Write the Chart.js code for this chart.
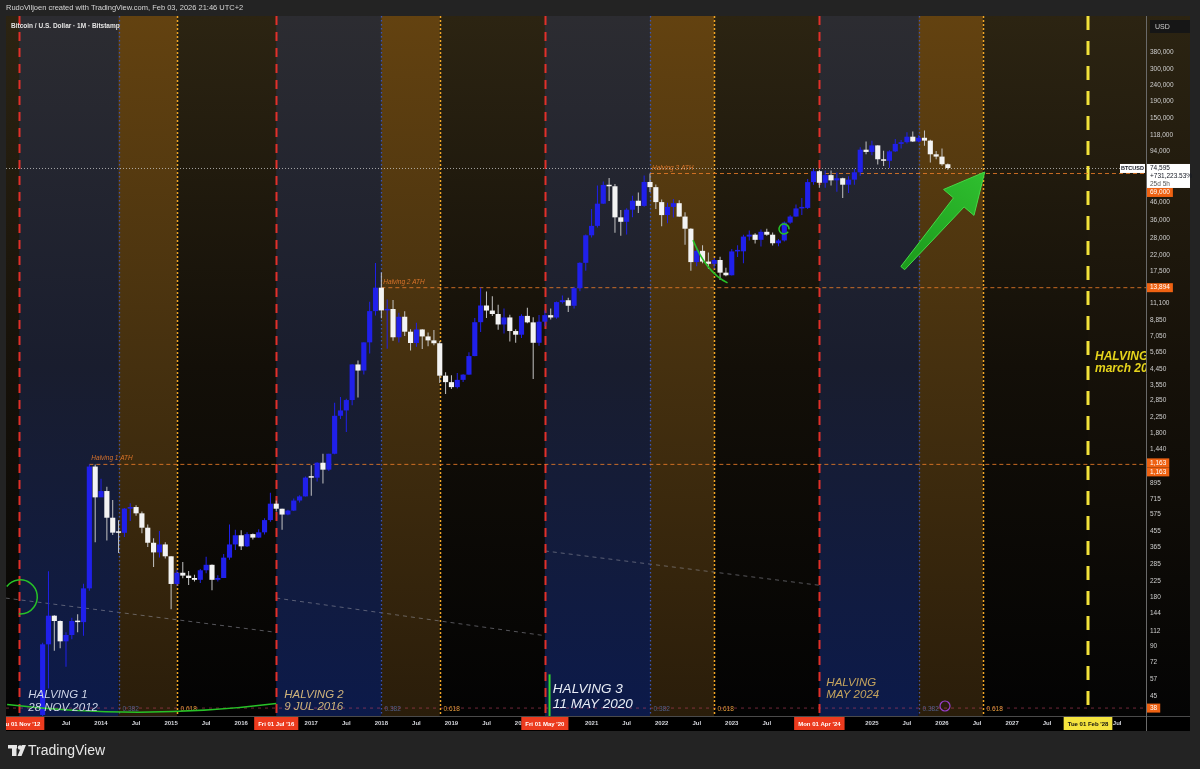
<!DOCTYPE html>
<html>
<head>
<meta charset="utf-8">
<script src="https://cdn.jsdelivr.net/npm/chart.js@4.4.1/dist/chart.umd.min.js"></script>
<style>
  html, body { margin: 0; padding: 0; background: #232323; }
  #wrap { position: relative; width: 1200px; height: 769px; }
</style>
</head>
<body>
<div id="wrap"><canvas id="grafico"></canvas></div>
<script>
// Velas mensais BTC/USD (Bitstamp)
const months = [
  '2013-03','2013-04','2013-05','2013-06','2013-07','2013-08','2013-09','2013-10','2013-11','2013-12',
  '2014-01','2014-02','2014-03','2014-04','2014-05','2014-06','2014-07','2014-08','2014-09','2014-10','2014-11','2014-12',
  '2015-01','2015-02','2015-03','2015-04','2015-05','2015-06','2015-07','2015-08','2015-09','2015-10','2015-11','2015-12',
  '2016-01','2016-02','2016-03','2016-04','2016-05','2016-06','2016-07','2016-08','2016-09','2016-10','2016-11','2016-12',
  '2017-01','2017-02','2017-03','2017-04','2017-05','2017-06','2017-07','2017-08','2017-09','2017-10','2017-11','2017-12',
  '2018-01','2018-02','2018-03','2018-04','2018-05','2018-06','2018-07','2018-08','2018-09','2018-10','2018-11','2018-12',
  '2019-01','2019-02','2019-03','2019-04','2019-05','2019-06','2019-07','2019-08','2019-09','2019-10','2019-11','2019-12',
  '2020-01','2020-02','2020-03','2020-04','2020-05','2020-06','2020-07','2020-08','2020-09','2020-10','2020-11','2020-12',
  '2021-01','2021-02','2021-03','2021-04','2021-05','2021-06','2021-07','2021-08','2021-09','2021-10','2021-11','2021-12',
  '2022-01','2022-02','2022-03','2022-04','2022-05','2022-06','2022-07','2022-08','2022-09','2022-10','2022-11','2022-12',
  '2023-01','2023-02','2023-03','2023-04','2023-05','2023-06','2023-07','2023-08','2023-09','2023-10','2023-11','2023-12',
  '2024-01','2024-02','2024-03','2024-04','2024-05','2024-06','2024-07','2024-08','2024-09','2024-10','2024-11','2024-12',
  '2025-01','2025-02','2025-03','2025-04','2025-05','2025-06','2025-07','2025-08','2025-09','2025-10','2025-11','2025-12',
  '2026-01','2026-02'
];
const open = [
  34.5,93,139,129,97,106,129,127,204,1128,
  732,800,550,446,445,625,639,585,478,387,338,378,
  320,217,254,244,236,230,263,284,230,236,314,378,
  430,368,437,416,448,532,670,624,575,608,700,742,
  966,965,1190,1080,1350,2300,2480,2870,4730,4340,6450,10000,
  13894,10100,10300,6925,9240,7490,6390,7730,7010,6630,6370,4040,
  3690,3440,3810,4100,5320,8560,10820,10080,9600,8290,9150,7560,
  7180,9350,8540,6410,8620,9450,9140,11350,11650,10780,13800,19700,
  28990,33100,45200,58800,57700,37300,35040,41500,47100,43800,61300,57000,
  46200,38500,43200,45500,37700,31800,19900,23300,20050,19420,20500,17160,
  16540,23120,23150,28470,29250,27200,30450,29230,25930,26970,34650,37720,
  42280,42580,61180,71300,60600,67500,62700,64600,58970,63330,70200,96400,
  93400,102400,84300,82500,94200,104600,107100,115700,108200,114000,109500,90400,
  87500,78600
];
const high = [
  95,259,140,130,110,135,142,218,1163,1163,
  950,850,705,531,630,675,655,600,500,412,457,390,
  320,265,295,260,247,268,318,285,245,330,500,465,
  462,448,440,468,545,780,700,624,615,720,755,980,
  1150,1200,1350,1350,2760,3000,2920,4750,5000,6470,11400,19666,
  17200,11780,11700,9760,9990,7760,8500,7760,7400,7680,6570,4240,
  4070,4200,4120,5610,9070,13880,13180,12330,10940,10370,9510,7750,
  9580,10500,9190,9470,10080,10380,11450,12470,12060,14100,19860,29300,
  41950,58350,61790,64900,59600,41300,42400,50500,52900,67000,69000,59100,
  47900,45800,48200,47400,40000,31950,24650,25200,22800,21100,21450,18380,
  23950,25250,29200,31000,29850,31400,31800,30200,27480,35200,38450,44700,
  48970,63900,73800,72800,71980,71950,70000,65100,66500,73600,99800,108300,
  109400,102700,95000,95700,111900,110500,123200,124400,117900,126200,111000,94600,
  97900,79500
];
const low = [
  33,50,85,88,68,100,110,105,197,390,
  735,400,432,335,420,525,565,443,365,275,315,310,
  152,212,235,214,225,220,252,199,225,236,305,350,
  350,365,405,415,435,520,600,465,570,605,680,740,
  750,915,890,1060,1340,2200,1830,2670,2970,4110,5510,9400,
  9035,5900,6600,6430,7060,5750,6070,5880,6100,6200,3650,3120,
  3350,3380,3700,4100,5310,7450,9070,9330,7710,7300,6520,6410,
  6860,8430,3850,6150,8100,8900,8980,11120,9880,10370,13220,17600,
  28130,32300,45000,47000,30000,28800,29300,37400,39600,43300,53300,42000,
  32950,34300,37200,37600,25400,17600,18800,19600,18150,18200,15480,16300,
  16500,21400,19550,26950,25800,24800,28850,25150,24900,26550,34100,37600,
  38550,41900,59000,56500,56550,58400,53500,49000,52550,58900,66800,90500,
  89200,78200,76600,74500,93300,98200,105100,107300,107200,102000,80500,84400,
  77000,72800
];
const close = [
  93,139,129,97,106,129,127,204,1128,732,
  800,550,446,445,625,639,585,478,387,338,378,320,
  217,254,244,236,230,263,284,230,236,314,378,430,
  368,437,416,448,532,670,624,575,608,700,742,966,
  965,1190,1080,1350,2300,2480,2870,4730,4340,6450,10000,13894,
  10100,10300,6925,9240,7490,6390,7730,7010,6630,6370,4040,3690,
  3440,3810,4100,5320,8560,10820,10080,9600,8290,9150,7560,7180,
  9350,8540,6410,8620,9450,9140,11350,11650,10780,13800,19700,28990,
  33100,45200,58800,57700,37300,35040,41500,47100,43800,61300,57000,46200,
  38500,43200,45500,37700,31800,19900,23300,20050,19420,20500,17160,16540,
  23120,23150,28470,29250,27200,30450,29230,25930,26970,34650,37720,42280,
  42580,61180,71300,60600,67500,62700,64600,58970,63330,70200,96400,93400,
  102400,84300,82500,94200,104600,107100,115700,108200,114000,109500,90400,87500,
  78600,74595
];

// Escala de preço (log) e eixo do tempo
const priceTicks = [45,57,72,90,112,144,180,225,285,365,455,575,715,895,1440,1800,2250,2850,3550,4450,
  5650,7050,8850,11100,17500,22000,28000,36000,46000,94000,118000,150000,190000,240000,300000,380000];
const timeTicks = [2013,2013.5,2014,2014.5,2015,2015.5,2016,2016.5,2017,2017.5,2018,2018.5,2019,2019.5,2020,2020.5,
  2021,2021.5,2022,2022.5,2023,2023.5,2024,2024.5,2025,2025.5,2026,2026.5,2027,2027.5,2028,2028.5];

// Halvings e zonas de Fibonacci (0.382 / 0.618) de cada ciclo
const halvings = ['2012-11','2016-07','2020-05','2024-04','2028-02'];
const halvingTags = ["Thu 01 Nov '12","Fri 01 Jul '16","Fri 01 May '20","Mon 01 Apr '24","Tue 01 Feb '28"];
const fib382 = ['2014-04','2018-01','2021-11','2025-09'];
const fib618 = ['2015-02','2018-11','2022-10','2026-08'];

// Topos de cada ciclo
const athNames = ['Halving 1 ATH','Halving 2 ATH','Halving 3 ATH'];
const athStart = ['2013-11','2018-01','2021-11'];
const athLevels = [1163, 13894, 69000];
const lastPrice = 74595;
const baseLevel = 38;

const BLUE = '#2020ea';
const WHITE = '#f3f3f3';
const WICK_WHITE = '#c4c4c4';

const ym = s => { const p = s.split('-'); return +p[0] + (+p[1] - 1) / 12; };
const xs = months.map(ym);
const isUp = i => close[i] >= open[i];

function grad(ctx, top, bottom, stops) {
  const g = ctx.createLinearGradient(0, top, 0, bottom);
  stops.forEach((c, i) => g.addColorStop(i / (stops.length - 1), c));
  return g;
}

function line(ctx, x0, y0, x1, y1, color, width, dash) {
  ctx.save();
  ctx.strokeStyle = color;
  ctx.lineWidth = width;
  ctx.setLineDash(dash || []);
  ctx.beginPath();
  ctx.moveTo(x0, y0);
  ctx.lineTo(x1, y1);
  ctx.stroke();
  ctx.restore();
}

function txt(ctx, s, x, y, font, color, align, base) {
  ctx.font = font;
  ctx.fillStyle = color;
  ctx.textAlign = align || 'left';
  ctx.textBaseline = base || 'alphabetic';
  ctx.fillText(s, x, y);
}

const FONT = '"Liberation Sans", Arial, sans-serif';

const fundo = {
  id: 'fundo',
  beforeDraw(chart) {
    const { ctx, chartArea: a, scales: { x, y } } = chart;
    const X = v => x.getPixelForValue(v);
    ctx.save();
    ctx.fillStyle = '#232323';
    ctx.fillRect(0, 0, chart.width, chart.height);

    const top = a.top, bot = a.bottom;
    ctx.fillStyle = grad(ctx, top, bot, ['#2c2412', '#161109', '#040404']);
    ctx.fillRect(a.left, top, y.right - a.left, bot - top);

    const blue = grad(ctx, top, bot, ['#2c2c31', '#191d2e', '#0c1a4a']);
    const orange = grad(ctx, top, bot, ['#634210', '#45300f', '#2a1d0a']);
    const black = grad(ctx, top, bot, ['#2c2412', '#130f08', '#030303']);
    for (let i = 0; i < fib382.length; i++) {
      const h0 = X(ym(halvings[i])), f1 = X(ym(fib382[i])), f2 = X(ym(fib618[i])), h1 = X(ym(halvings[i + 1]));
      ctx.fillStyle = blue; ctx.fillRect(h0, top, f1 - h0, bot - top);
      ctx.fillStyle = orange; ctx.fillRect(f1, top, f2 - f1, bot - top);
      ctx.fillStyle = black; ctx.fillRect(f2, top, h1 - f2, bot - top);
    }
    // faixa do eixo do tempo
    ctx.fillStyle = '#000000';
    ctx.fillRect(a.left, bot, y.right - a.left, x.bottom - bot);
    line(ctx, a.left, bot + 0.5, y.right, bot + 0.5, '#4a4a4a', 1);
    line(ctx, a.right + 0.5, top, a.right + 0.5, x.bottom, '#6a6a6a', 1);
    ctx.restore();
  },
  beforeDatasetsDraw(chart) {
    const { ctx, chartArea: a, scales: { x, y } } = chart;
    const X = v => x.getPixelForValue(v), Y = v => y.getPixelForValue(v);
    ctx.save();
    ctx.beginPath();
    ctx.rect(a.left, a.top, a.right - a.left, a.bottom - a.top);
    ctx.clip();

    // linhas de tendência cinza por ciclo
    const trends = [[2012.64, 178, 2016.5, 110], [2016.5, 178, 2020.333, 105], [2020.333, 345, 2024.25, 213]];
    trends.forEach(t => line(ctx, X(t[0]), Y(t[1]), X(t[2]), Y(t[3]), 'rgba(150,150,160,0.55)', 1, [4, 4]));

    // linha base das zonas
    line(ctx, a.left, Y(baseLevel), a.right, Y(baseLevel), 'rgba(200,70,100,0.55)', 1, [3, 4]);

    // zonas 0.382 e 0.618
    fib382.forEach(d => {
      const px = Math.round(X(ym(d))) + 0.5;
      line(ctx, px, a.top, px, a.bottom, '#3a55b4', 1.3, [1.5, 2.5]);
      txt(ctx, '0.382', px + 3, a.bottom - 5, '6.5px ' + FONT, 'rgba(90,110,170,0.8)');
    });
    fib618.forEach(d => {
      const px = Math.round(X(ym(d))) + 0.5;
      line(ctx, px, a.top, px, a.bottom, '#f2a626', 1.5, [2, 2]);
      txt(ctx, '0.618', px + 3, a.bottom - 5, '6.5px ' + FONT, '#e39a3a');
    });

    // halvings
    halvings.slice(0, 4).forEach(d => {
      const px = Math.round(X(ym(d))) + 0.5;
      line(ctx, px, a.top, px, a.bottom, '#e2302a', 2, [9, 7]);
    });
    const yl = Math.round(X(ym(halvings[4])));
    line(ctx, yl, a.top, yl, a.bottom, '#f2e23a', 3, [14, 11]);

    // topos
    athLevels.forEach((v, i) => {
      const px = X(ym(athStart[i]));
      line(ctx, px, Y(v), a.right, Y(v), 'rgba(232,122,40,0.85)', 1, [4, 3]);
      txt(ctx, athNames[i], px + 2, Y(v) - 4, 'italic 6.5px ' + FONT, '#d9732a');
    });

    // linha do preço atual
    line(ctx, a.left, Y(lastPrice) + 0.5, a.right, Y(lastPrice) + 0.5, 'rgba(210,210,210,0.75)', 1, [1, 2]);
    ctx.restore();
  },
  afterDatasetsDraw(chart) {
    const { ctx, chartArea: a, scales: { x, y } } = chart;
    const X = v => x.getPixelForValue(v), Y = v => y.getPixelForValue(v);
    ctx.save();
    ctx.beginPath();
    ctx.rect(a.left, a.top, a.right - a.left, a.bottom - a.top);
    ctx.clip();

    const green = '#27c227';
    ctx.strokeStyle = green;
    ctx.lineWidth = 1.5;

    // arco à esquerda
    ctx.beginPath();
    ctx.arc(X(ym(halvings[0])) + 1, Y(181), 17, -2.49, 1.65);
    ctx.stroke();

    // curva verde no rodapé do ciclo 1
    ctx.beginPath();
    ctx.moveTo(X(2012.66), Y(40));
    ctx.quadraticCurveTo(X(2014.6), Y(32), X(ym(halvings[1])), Y(40.5));
    ctx.stroke();

    // curva no fundo de 2022
    ctx.beginPath();
    ctx.moveTo(X(2022.447), Y(27100));
    ctx.quadraticCurveTo(X(2022.633), Y(17300), X(2022.94), Y(14850));
    ctx.stroke();

    // pequeno círculo em 2023
    ctx.beginPath();
    ctx.arc(X(2023.746), Y(31700), 5, 0.6, 2 * Math.PI + 0.1);
    ctx.stroke();

    // marcador vertical do halving 3
    line(ctx, X(2020.4), Y(61), X(2020.4), a.bottom, '#2fd62f', 2);

    // seta verde
    const tx = X(2025.44), ty = Y(18300), px = X(2026.61), py = Y(70500);
    const dx = px - tx, dy = py - ty, L = Math.hypot(dx, dy);
    const ux = dx / L, uy = dy / L, nx = -uy, ny = ux;
    const hl = 40, hw = 20, s1 = 7, s0 = 2.5;
    const bx = px - ux * hl, by = py - uy * hl;
    ctx.beginPath();
    ctx.moveTo(tx + nx * s0, ty + ny * s0);
    ctx.lineTo(bx + nx * s1, by + ny * s1);
    ctx.lineTo(bx + nx * hw, by + ny * hw);
    ctx.lineTo(px, py);
    ctx.lineTo(bx - nx * hw, by - ny * hw);
    ctx.lineTo(bx - nx * s1, by - ny * s1);
    ctx.lineTo(tx - nx * s0, ty - ny * s0);
    ctx.closePath();
    const ag = ctx.createLinearGradient(tx, ty, px, py);
    ag.addColorStop(0, '#1c9a1c');
    ag.addColorStop(1, '#2fbf2f');
    ctx.fillStyle = ag;
    ctx.fill();
    ctx.strokeStyle = '#45d845';
    ctx.lineWidth = 1;
    ctx.stroke();

    // ícone roxo
    ctx.strokeStyle = '#9a3fd0';
    ctx.lineWidth = 1.2;
    ctx.beginPath();
    ctx.arc(X(2026) + 3, a.bottom - 10, 5, 0, 2 * Math.PI);
    ctx.stroke();

    // textos dos halvings
    const h = halvings.map(d => X(ym(d)));
    txt(ctx, 'HALVING 1', h[0] + 9, a.bottom - 18, 'italic 11.5px ' + FONT, '#cdd4e6');
    txt(ctx, '28 NOV 2012', h[0] + 9, a.bottom - 5, 'italic 11.5px ' + FONT, '#cdd4e6');
    txt(ctx, 'HALVING 2', h[1] + 8, a.bottom - 18, 'italic 11.5px ' + FONT, '#cfb37b');
    txt(ctx, '9 JUL 2016', h[1] + 8, a.bottom - 6, 'italic 11.5px ' + FONT, '#cfb37b');
    txt(ctx, 'HALVING 3', h[2] + 8, a.bottom - 23, 'italic 13.5px ' + FONT, '#e9edf6');
    txt(ctx, '11 MAY 2020', h[2] + 8, a.bottom - 8, 'italic 13.5px ' + FONT, '#e9edf6');
    txt(ctx, 'HALVING', h[3] + 7, a.bottom - 30, 'italic 11.5px ' + FONT, '#c6a55e');
    txt(ctx, 'MAY 2024', h[3] + 7, a.bottom - 18, 'italic 11.5px ' + FONT, '#c6a55e');
    txt(ctx, 'HALVING', h[4] + 7, Y(5000), 'italic bold 12px ' + FONT, '#e6d41c');
    txt(ctx, 'march 2028', h[4] + 7, Y(5000) + 12, 'italic bold 12px ' + FONT, '#e6d41c');

    txt(ctx, 'Bitcoin / U.S. Dollar · 1M · Bitstamp', a.left + 5, a.top + 10, 'bold 6.5px ' + FONT, '#e4e4e4', 'left', 'middle');
    ctx.restore();
  },
  afterDraw(chart) {
    const { ctx, chartArea: a, scales: { x, y } } = chart;
    const X = v => x.getPixelForValue(v), Y = v => y.getPixelForValue(v);
    ctx.save();

    // etiquetas das datas dos halvings no eixo do tempo
    ctx.save();
    ctx.beginPath();
    ctx.rect(a.left, a.bottom, y.right - a.left, x.bottom - a.bottom);
    ctx.clip();
    halvingTags.forEach((s, i) => {
      const cx = X(ym(halvings[i]));
      ctx.font = 'bold 6px ' + FONT;
      const w = ctx.measureText(s).width + 8;
      ctx.fillStyle = i === 4 ? '#f4e43e' : '#ec3b1e';
      ctx.fillRect(cx - w / 2, a.bottom + 1, w, 13);
      txt(ctx, s, cx, a.bottom + 8, 'bold 6px ' + FONT, i === 4 ? '#111111' : '#ffffff', 'center', 'middle');
    });
    ctx.restore();

    const ax = a.right + 1;
    // USD
    ctx.fillStyle = '#161616';
    ctx.fillRect(ax + 3, a.top + 4, 40, 13);
    txt(ctx, 'USD', ax + 8, a.top + 11, '7px ' + FONT, '#cfcfcf', 'left', 'middle');

    // etiquetas laranja
    const tag = (label, cy) => {
      ctx.font = '6.5px ' + FONT;
      const w = ctx.measureText(label).width + 6;
      ctx.fillStyle = '#ef6212';
      ctx.fillRect(ax, cy - 4.5, w, 9);
      txt(ctx, label, ax + 3, cy, '6.5px ' + FONT, '#ffffff', 'left', 'middle');
    };
    const yp = Y(lastPrice);
    tag('69,000', yp + 24.5);
    tag('13,894', Y(13894));
    tag('1,163', Y(1163) - 1.5);
    tag('1,163', Y(1163) + 7.5);
    tag('38', Y(baseLevel));

    // preço atual
    ctx.fillStyle = '#ffffff';
    ctx.fillRect(ax, yp - 4, y.right - ax, 24);
    txt(ctx, '74,595', ax + 3, yp, '6.5px ' + FONT, '#131722', 'left', 'middle');
    txt(ctx, '+731,223.53%', ax + 3, yp + 8, '6.5px ' + FONT, '#131722', 'left', 'middle');
    txt(ctx, '25d 5h', ax + 3, yp + 16, '6.5px ' + FONT, '#555555', 'left', 'middle');
    ctx.fillStyle = '#ffffff';
    ctx.fillRect(a.right - 26, yp - 4, 25, 9);
    txt(ctx, 'BTCUSD', a.right - 13.5, yp + 0.5, 'bold 5.5px ' + FONT, '#131722', 'center', 'middle');

    // cabeçalho e rodapé
    txt(ctx, 'RudoViljoen created with TradingView.com, Feb 03, 2026 21:46 UTC+2', 6, 8, '7.5px ' + FONT, '#d6d6d6', 'left', 'middle');
    ctx.fillStyle = '#e6e6e6';
    ctx.fillRect(8, 745, 9, 3.5);
    ctx.fillRect(12, 745, 4.5, 11);
    ctx.beginPath(); ctx.arc(20, 747.5, 2.2, 0, 2 * Math.PI); ctx.fill();
    ctx.beginPath();
    ctx.moveTo(17.5, 756); ctx.lineTo(22, 745); ctx.lineTo(26, 745); ctx.lineTo(21.5, 756); ctx.closePath();
    ctx.fill();
    txt(ctx, 'TradingView', 28, 751, '14px ' + FONT, '#e6e6e6', 'left', 'middle');
    ctx.restore();
  }
};

const ctx = document.getElementById('grafico').getContext('2d');
new Chart(ctx, {
  type: 'bar',
  data: {
    datasets: [
      {
        label: 'wicks',
        data: xs.map((v, i) => ({ x: v, y: [low[i], high[i]] })),
        backgroundColor: c => isUp(c.dataIndex) ? BLUE : WICK_WHITE,
        maxBarThickness: 1,
        grouped: false,
        order: 2
      },
      {
        label: 'bodies',
        data: xs.map((v, i) => ({ x: v, y: [open[i], close[i]] })),
        backgroundColor: c => isUp(c.dataIndex) ? BLUE : WHITE,
        barPercentage: 1,
        categoryPercentage: 0.88,
        maxBarThickness: 6,
        minBarLength: 1.5,
        grouped: false,
        order: 1
      }
    ]
  },
  options: {
    responsive: true,
    maintainAspectRatio: false,
    devicePixelRatio: 1,
    animation: false,
    events: [],
    layout: { padding: { left: 6, top: 16, right: 10, bottom: 38 } },
    plugins: { legend: { display: false }, tooltip: { enabled: false } },
    scales: {
      x: {
        type: 'linear',
        offset: false,
        min: 2012.644,
        max: 2028.911,
        grid: { display: false, drawTicks: false },
        border: { display: false },
        afterBuildTicks: s => { s.ticks = timeTicks.map(v => ({ value: v })); },
        afterFit: s => { s.height = 15; },
        ticks: {
          autoSkip: false,
          maxRotation: 0,
          padding: 4,
          color: '#d4d6dc',
          font: { family: FONT, size: 6, weight: 'bold' },
          callback: v => Math.abs(v - Math.round(v)) < 0.01 ? String(Math.round(v)) : 'Jul'
        }
      },
      y: {
        type: 'logarithmic',
        position: 'right',
        min: 34,
        max: 629900,
        grid: { display: false, drawTicks: false },
        border: { display: false },
        afterBuildTicks: s => { s.ticks = priceTicks.map(v => ({ value: v })); },
        afterFit: s => { s.width = 44; },
        ticks: {
          padding: 4,
          color: '#cfcfcf',
          font: { family: FONT, size: 6.5 },
          callback: v => Number(v).toLocaleString('en-US')
        }
      }
    }
  },
  plugins: [fundo]
});
</script>
</body>
</html>
